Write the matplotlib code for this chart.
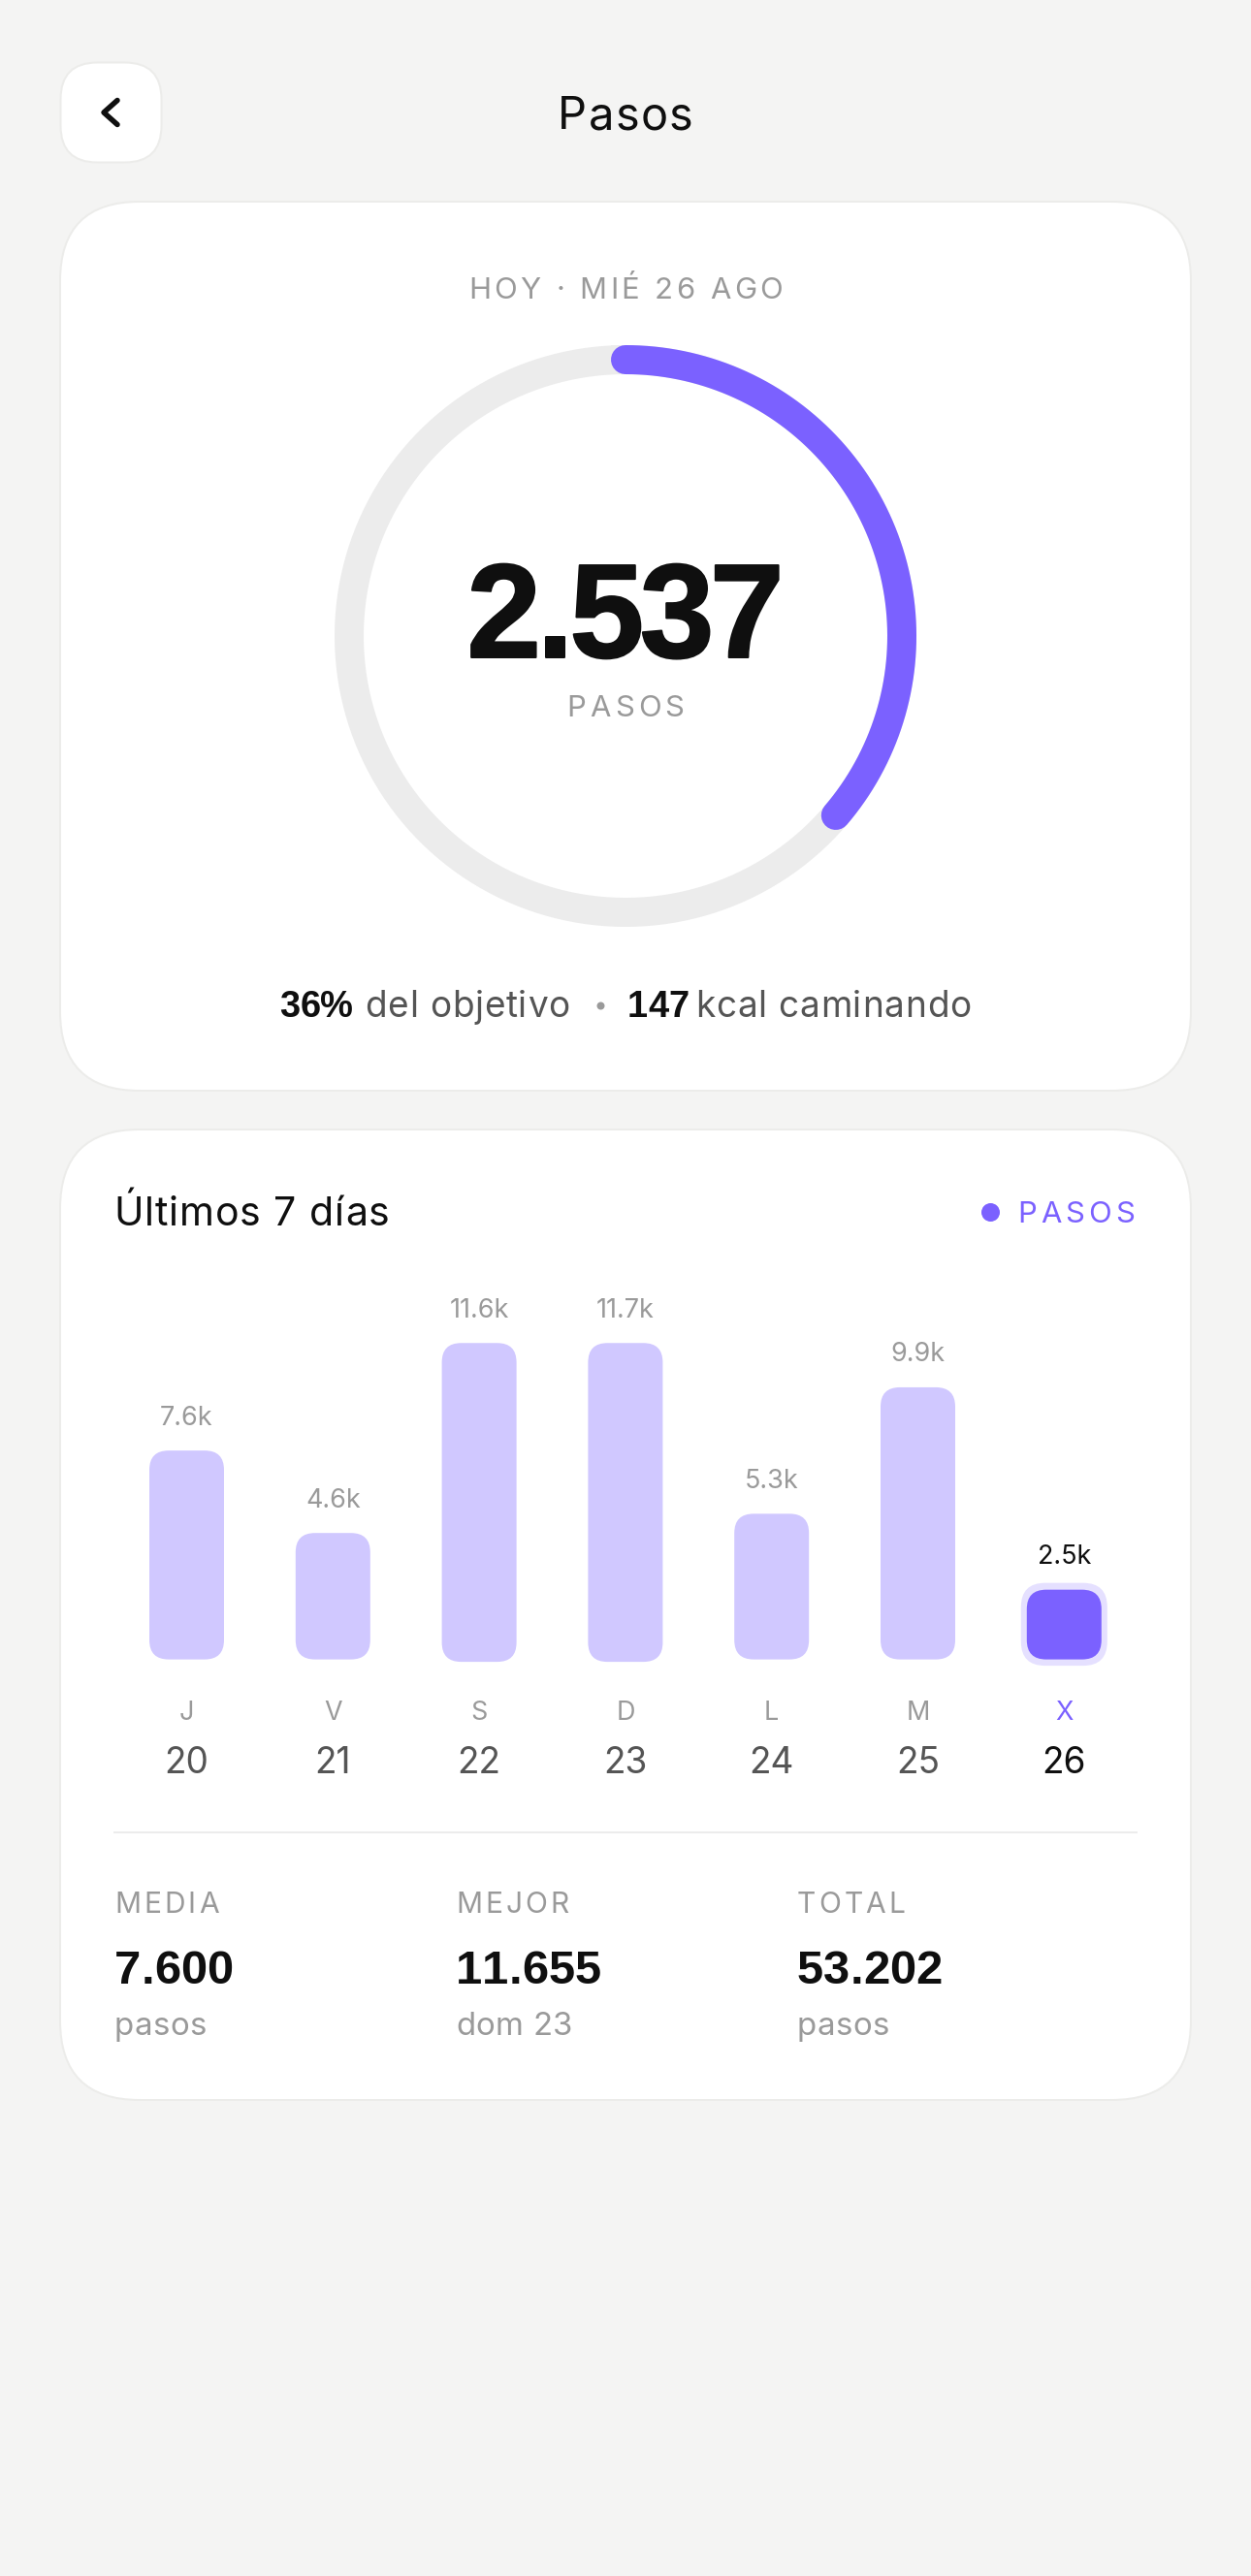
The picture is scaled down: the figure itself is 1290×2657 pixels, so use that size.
import numpy as np
import matplotlib
matplotlib.use('Agg')
import matplotlib.pyplot as plt
import matplotlib.patheffects as pe
from matplotlib.font_manager import findfont, get_font
from matplotlib.ft2font import LoadFlags
from matplotlib.patches import FancyBboxPatch
from matplotlib.text import Text
from matplotlib.transforms import IdentityTransform

# Data
steps_today = 2537
steps_goal = 7000
weekdays = ['J', 'V', 'S', 'D', 'L', 'M', 'X']
dates = ['20', '21', '22', '23', '24', '25', '26']
week_steps = [7600, 4600, 11600, 11600, 5300, 9900, 2537]
week_labels = ['7.6k', '4.6k', '11.6k', '11.7k', '5.3k', '9.9k', '2.5k']
stat_names = ['MEDIA', 'MEJOR', 'TOTAL']
stat_values = ['7.600', '11.655', '53.202']
stat_units = ['pasos', 'dom 23', 'pasos']

# Colours
BG = '#F4F4F3'
EDGE = '#ECECEA'
PURPLE = '#7B61FF'
LILAC = '#D0C8FF'
HALO = '#E5E0FF'
TRACK = '#ECECEC'
INK = '#0F0F0F'
GREY = '#9A9A9A'
MID = '#555555'

W, H = 1290, 2657
DPI = 100
PT = 72 / DPI  # one pixel in points

plt.rcParams['font.family'] = ['Inter', 'DejaVu Sans']
BOLD = ['Liberation Sans', 'DejaVu Sans']

fig = plt.figure(figsize=(W / DPI, H / DPI), dpi=DPI, facecolor=BG)


class TrackedText(Text):
    # matplotlib has no letter spacing, so the string is laid out glyph by glyph at draw time
    def __init__(self, *args, track=0, **kw):
        super().__init__(*args, **kw)
        self.track = track

    def draw(self, renderer):
        fp = self.get_fontproperties()
        font = get_font(findfont(fp))
        font.set_size(fp.get_size_in_points(), DPI)
        s = self.get_text()
        adv = [font.load_char(ord(c), flags=LoadFlags.NO_HINTING).linearHoriAdvance / 65536 for c in s]
        total = sum(adv) + self.track * (len(s) - 1)
        x, y = self.get_transform().transform(self.get_position())
        x -= {'left': 0, 'center': total / 2, 'right': total}[self.get_ha()]
        for c, a in zip(s, adv):
            glyph = Text(x, y, c, transform=IdentityTransform(), fontproperties=fp,
                         color=self.get_color(), ha='left', va='baseline',
                         path_effects=self.get_path_effects())
            glyph.set_figure(self.get_figure())
            glyph.draw(renderer)
            x += a + self.track


def axes_px(left, top, right, bottom):
    # axes placed by pixel box of the screen
    return fig.add_axes([left / W, 1 - bottom / H, (right - left) / W, (bottom - top) / H])


page = axes_px(0, 0, W, H)
page.set_xlim(0, W)
page.set_ylim(H, 0)
page.axis('off')


def label(x, y, s, px, color=INK, ha='left', track=0, **kw):
    page.add_artist(TrackedText(x, y, s, track=track, fontsize=px * PT, color=color,
                                ha=ha, va='baseline', **kw))


def card(x0, y0, x1, y1, r):
    page.add_patch(FancyBboxPatch((x0, y0), x1 - x0, y1 - y0,
                                  boxstyle=f'round,pad=0,rounding_size={r}',
                                  fc='white', ec=EDGE, lw=2 * PT))


# Header
card(62.5, 64.5, 166.5, 167.5, 38)
page.plot([121, 107, 121], [103.5, 116, 128.5], color=INK, lw=5.5 * PT,
          solid_capstyle='round', solid_joinstyle='round')
label(645, 133, 'Pasos', 47, ha='center', track=1.3)

# Ring card
card(62, 208, 1228, 1125, 82)
label(645, 308, 'HOY · MIÉ 26 AGO', 31, GREY, ha='center', track=3.4)

ring = axes_px(345, 356, 945, 956)
ring.set_xlim(-300, 300)
ring.set_ylim(-300, 300)
ring.axis('off')
theta = np.linspace(0, 2 * np.pi, 361)
ring.plot(285 * np.sin(theta), 285 * np.cos(theta), color=TRACK, lw=30 * PT)
theta = np.linspace(0, 2 * np.pi * steps_today / steps_goal, 181)
ring.plot(285 * np.sin(theta), 285 * np.cos(theta), color=PURPLE, lw=30 * PT,
          solid_capstyle='round')

label(645, 678, f'{steps_today:,}'.replace(',', '.'), 138, INK, ha='center', track=-4.5,
      family=BOLD, weight='bold',
      path_effects=[pe.withStroke(linewidth=2 * PT, foreground=INK)])
label(645, 739, 'PASOS', 31, GREY, ha='center', track=4)

label(288, 1049, f'{round(100 * steps_today / steps_goal)}%', 38, INK, family=BOLD, weight='bold')
label(376, 1049, 'del objetivo', 37, MID, track=0.8)
page.plot([618.5], [1037], 'o', color=GREY, ms=8 * PT, mew=0)
label(647, 1049, '147', 38, INK, family=BOLD, weight='bold')
label(717, 1049, 'kcal caminando', 37, MID, track=0.8)

# Bars card
card(62, 1165, 1228, 2166, 82)
label(117, 1264, 'Últimos 7 días', 41, track=1)
page.plot([1021], [1250], 'o', color=PURPLE, ms=19 * PT, mew=0)
label(1170, 1261, 'PASOS', 31, PURPLE, ha='right', track=4)

# bars live on their own axes: one x unit per day, y in steps
px_per_day = 150.8
px_per_step = 0.02835
y_top = 13000
left = 192.5 - 0.5 * px_per_day
base = 1711.6
bars = axes_px(left, base - y_top * px_per_step, left + 7 * px_per_day, base)
bars.set_xlim(-0.5, 6.5)
bars.set_ylim(0, y_top)
bars.axis('off')
bars.patch.set_alpha(0)

bar_w = 77 / px_per_day
aspect = px_per_day / px_per_step
radius = 20 / px_per_day
for i, v in enumerate(week_steps):
    today = i == len(week_steps) - 1
    # the two tallest bars hang a little below the baseline in the reference
    low = -2.5 / px_per_step if v > 11000 else 0
    if today:
        bars.add_patch(FancyBboxPatch((i - 44.5 / px_per_day, -6.5 / px_per_step),
                                      89 / px_per_day, v + 13.5 / px_per_step,
                                      boxstyle=f'round,pad=0,rounding_size={25 / px_per_day}',
                                      mutation_aspect=aspect, fc=HALO, ec='none', clip_on=False))
    bars.add_patch(FancyBboxPatch((i - bar_w / 2, low), bar_w, v,
                                  boxstyle=f'round,pad=0,rounding_size={radius}',
                                  mutation_aspect=aspect, fc=PURPLE if today else LILAC,
                                  ec='none', clip_on=False))
    bars.annotate(week_labels[i], (i, v + low), xytext=(0, 26.5 * PT), textcoords='offset points',
                  ha='center', va='baseline', fontsize=27 * PT,
                  color=INK if today else GREY)
    bars.annotate(weekdays[i], (i, 0), xytext=(0, -62.5 * PT), textcoords='offset points',
                  ha='center', va='baseline', fontsize=27 * PT, annotation_clip=False,
                  color=PURPLE if today else GREY)
    bars.annotate(dates[i], (i, 0), xytext=(0, -117 * PT), textcoords='offset points',
                  ha='center', va='baseline', fontsize=37 * PT, annotation_clip=False,
                  color=INK if today else MID)

page.plot([118, 1172], [1890, 1890], color=TRACK, lw=2 * PT)

# Summary row
stat_x = [118, 470, 822]
for x, name, value, unit in zip(stat_x, stat_names, stat_values, stat_units):
    label(x, 1973, name, 30, GREY, track=3)
    label(x, 2046, value, 49, INK, family=BOLD, weight='bold')
    label(x, 2099, unit, 33, GREY, track=0.4)

fig.savefig('out.png', dpi=DPI, facecolor=BG)
plt.close(fig)
